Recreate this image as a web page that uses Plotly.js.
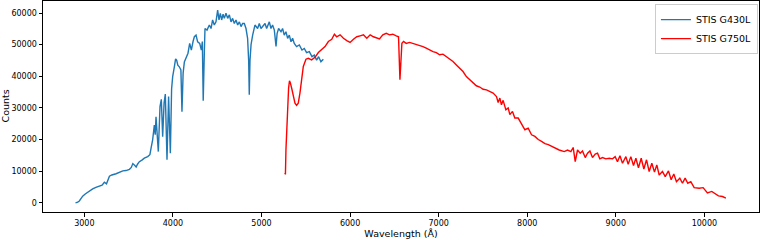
<!DOCTYPE html>
<html>
<head>
<meta charset="utf-8">
<script src="https://cdn.plot.ly/plotly-3.0.1.min.js"></script>
<style>html,body{margin:0;padding:0;background:#fff;}#chart{width:760px;height:240px;}</style>
</head>
<body>
<div id="chart"></div>
<script>
const seriesNames = ["STIS G430L", "STIS G750L"];
const xTicks = [3000, 4000, 5000, 6000, 7000, 8000, 9000, 10000];
const yTicks = [0, 10000, 20000, 30000, 40000, 50000, 60000];

const g430Wavelength = [2900,2925,2943,2965,2981,3010,3038,3065,3094,3130,3170,3200,3226,3250,3283,3310,3358,3400,3434,3470,3509,3530,3547,3570,3585,3600,3621,3650,3677,3715,3740,3753,3771,3790,3800,3809,3820,3835,3854,3869,3884,3900,3914,3933,3951,3971,3985,3997,4016,4030,4042,4055,4072,4090,4102,4115,4129,4151,4170,4189,4208,4227,4242,4261,4279,4302,4321,4332,4342,4355,4362,4385,4411,4430,4448,4467,4486,4505,4520,4535,4550,4566,4580,4599,4618,4637,4656,4674,4693,4712,4731,4750,4769,4787,4806,4825,4843,4855,4862,4870,4882,4900,4926,4956,4975,4994,5020,5040,5058,5088,5107,5125,5145,5164,5176,5193,5220,5238,5257,5276,5295,5314,5333,5351,5370,5396,5427,5457,5483,5509,5540,5570,5596,5622,5645,5671,5698];
const g430Counts = [0,200,600,1500,2100,2800,3400,3900,4400,4900,5300,5600,6500,6000,8400,8800,9200,9700,10100,10200,10600,11200,12400,11800,11300,12200,13000,13500,14100,14600,15200,17300,19900,24600,21500,27200,22000,16200,30400,32700,20900,31500,34400,13600,33600,15700,36000,39900,43000,45500,45100,43500,43000,42000,28800,41000,44500,46200,47300,50400,48300,51000,52500,53000,50900,50400,48300,51000,32300,48000,55100,54600,56200,55100,57800,56200,57200,60900,57800,59900,57800,59600,58300,59900,58300,59400,57200,58300,56700,57800,56200,57200,55700,56700,56700,55100,52000,45000,34200,45000,50000,53000,56200,55100,56700,55100,56200,56700,55100,57200,55100,56200,54600,49400,53500,55100,54100,55100,53000,54100,52000,53000,50900,52000,50400,49400,49900,48300,48800,47500,47800,46200,46700,45100,46200,44600,45400];

const g750Wavelength = [5264,5270,5276,5291,5306,5316,5325,5340,5359,5378,5396,5415,5434,5453,5472,5502,5528,5566,5604,5642,5679,5717,5755,5793,5823,5849,5887,5925,5963,6000,6038,6076,6114,6151,6189,6227,6264,6302,6332,6370,6408,6446,6483,6521,6547,6563,6585,6604,6634,6672,6709,6747,6785,6823,6860,6898,6936,6974,7011,7049,7087,7125,7162,7200,7238,7275,7313,7351,7389,7426,7464,7502,7540,7577,7615,7653,7672,7691,7709,7728,7759,7785,7804,7834,7860,7898,7936,7974,8011,8049,8087,8125,8162,8200,8238,8276,8313,8361,8418,8455,8493,8519,8542,8568,8598,8624,8655,8681,8708,8737,8768,8794,8820,8850,8888,8926,8963,8993,9019,9047,9076,9114,9140,9170,9200,9227,9256,9287,9317,9347,9377,9407,9437,9463,9490,9527,9558,9595,9625,9655,9685,9723,9753,9783,9813,9847,9885,9941,9986,10035,10084,10111,10159,10205,10243];
const g750Counts = [9500,9000,16800,27300,36300,38600,38000,36300,33600,31500,30800,31500,34700,39900,43100,45400,45700,45200,46000,47500,48600,49400,51000,51700,53300,52500,53100,52000,51300,50700,51700,52500,52800,53100,52000,53100,52500,52200,51800,53100,53600,53100,53300,52800,52500,38900,50400,51000,50400,50700,50400,50200,49900,49400,48900,48300,47800,47500,46800,47000,46200,45400,44700,43600,42600,41500,39900,38900,37800,37000,36600,35900,35700,35200,34700,33600,31700,33100,31000,32400,29400,30000,27900,28900,26800,26800,24700,23100,23600,21500,21000,20000,19400,18700,18400,17900,17300,16700,16200,16700,16200,17500,13000,16700,15700,16400,14300,15700,16400,14300,15400,15700,13900,14300,13900,14100,13900,14600,13000,14900,12500,14600,12200,14600,11800,14100,11100,14100,10700,13600,9900,12500,9700,12000,8800,9900,8300,10100,7300,9100,6700,7800,6200,7800,6200,6700,4800,4600,4800,3100,3600,3100,2200,2000,1500];

const FONT = "DejaVu Sans, Liberation Sans, sans-serif";

const traces = [
  {x: g430Wavelength, y: g430Counts, type: "scatter", mode: "lines", name: seriesNames[0],
   line: {color: "#1f77b4", width: 1.4}},
  {x: g750Wavelength, y: g750Counts, type: "scatter", mode: "lines", name: seriesNames[1],
   line: {color: "#ff0000", width: 1.4}}
];

const layout = {
  width: 760, height: 240,
  margin: {l: 43, r: 1, t: 1, b: 28, pad: 0},
  paper_bgcolor: "#ffffff", plot_bgcolor: "#ffffff",
  font: {family: FONT, size: 8, color: "#000000"},
  showlegend: true,
  legend: {x: 0.9985, xanchor: "right", y: 0.985, yanchor: "top",
           bordercolor: "#cccccc", borderwidth: 1, bgcolor: "rgba(255,255,255,0.8)",
           font: {family: FONT, size: 9.5, color: "#000000"}, tracegroupgap: 0},
  xaxis: {
    range: [2533, 10617], tickvals: xTicks, ticktext: xTicks.map(String),
    showgrid: false, zeroline: false, showline: true, mirror: true,
    linecolor: "#000000", linewidth: 1, ticks: "outside", ticklen: 3.5, tickwidth: 1, tickcolor: "#000000",
    tickfont: {family: FONT, size: 8, color: "#000000"},
    title: {text: "Wavelength (Å)", font: {family: FONT, size: 9.5, color: "#000000"}, standoff: 3}
  },
  yaxis: {
    range: [-2900, 63800], tickvals: yTicks, ticktext: yTicks.map(String),
    showgrid: false, zeroline: false, showline: true, mirror: true,
    linecolor: "#000000", linewidth: 1, ticks: "outside", ticklen: 3.5, tickwidth: 1, tickcolor: "#000000",
    tickfont: {family: FONT, size: 8, color: "#000000"}
  },
  annotations: [
    {text: "Counts", textangle: -90, xref: "paper", yref: "paper", x: 0, y: 0.5,
     xanchor: "center", yanchor: "middle", xshift: -38, showarrow: false,
     font: {family: FONT, size: 9.5, color: "#000000"}}
  ]
};

Plotly.newPlot("chart", traces, layout, {staticPlot: true, displayModeBar: false});
</script>
</body>
</html>
